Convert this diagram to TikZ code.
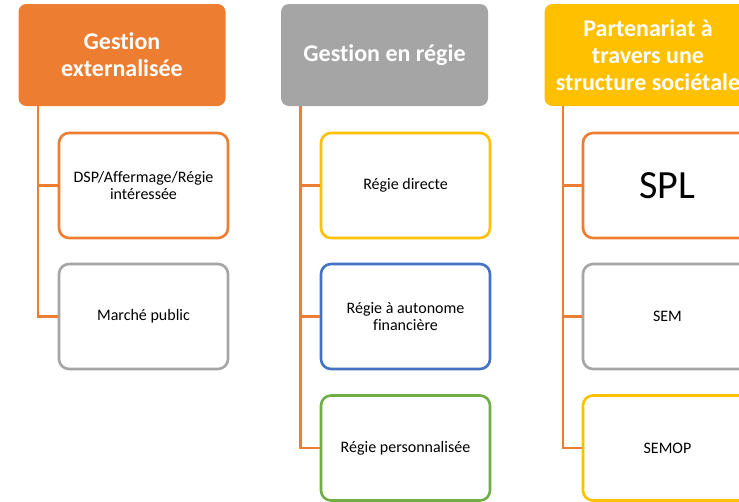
\documentclass[tikz,border=0pt]{standalone}
\usepackage{fontspec}
\setmainfont[Ligatures=NoCommon]{Carlito}
\definecolor{cOrange}{HTML}{ED7D31}
\definecolor{cGray}{HTML}{A5A5A5}
\definecolor{cYellow}{HTML}{FFC000}
\definecolor{cBlue}{HTML}{4472C4}
\definecolor{cGreen}{HTML}{70AD47}
\begin{document}
\begin{tikzpicture}[x=1pt,y=1pt,
  header/.style={rounded corners=8pt, minimum width=207pt, minimum height=102pt, inner sep=0pt,
    text=white, font=\fontsize{24}{27}\selectfont\bfseries, align=center},
  child/.style={draw=#1, line width=2.6pt, fill=white, rounded corners=10pt, minimum width=169pt,
    minimum height=105pt, inner sep=0pt, align=center, font=\fontsize{16}{17}\selectfont},
  conn/.style={draw=cOrange, line width=2.8pt}]
\useasboundingbox (0,0) rectangle (739,-501);
\fill[white] (0,0) rectangle (739,-501);
% headers
\node[header, fill=cOrange] (h1) at (122,-55) {Gestion\\externalisée};
\node[header, fill=cGray] (h2) at (384.5,-55) {Gestion en régie};
\node[header, fill=cYellow] (h3) at (648,-55) {Partenariat à\\travers une\\structure sociétale};
% column 1
\node[child=cOrange] (dsp) at (143.5,-185.5) {DSP/Affermage/Régie\\intéressée};
\node[child=cGray] (mp) at (143.5,-316.5) {Marché public};
% column 2
\node[child=cYellow] (rd) at (405.5,-185.5) {Régie directe};
\node[child=cBlue] (ra) at (405.5,-316.5) {Régie à autonome\\financière};
\node[child=cGreen] (rp) at (405.5,-448) {Régie personnalisée};
% column 3
\node[child=cOrange, font=\fontsize{40}{44}\selectfont] (spl) at (667.5,-185.5) {SPL};
\node[child=cGray] (sem) at (667.5,-316.5) {SEM};
\node[child=cYellow] (semop) at (667.5,-448) {SEMOP};
% connectors
\coordinate (v1) at (38,-106);
\coordinate (v2) at (300.5,-106);
\coordinate (v3) at (563,-106);
\draw[conn] (v1) |- (dsp.west);
\draw[conn] (v1) |- (mp.west);
\draw[conn] (v2) |- (rd.west);
\draw[conn] (v2) |- (ra.west);
\draw[conn] (v2) |- (rp.west);
\draw[conn] (v3) |- (spl.west);
\draw[conn] (v3) |- (sem.west);
\draw[conn] (v3) |- (semop.west);
\end{tikzpicture}
\end{document}
